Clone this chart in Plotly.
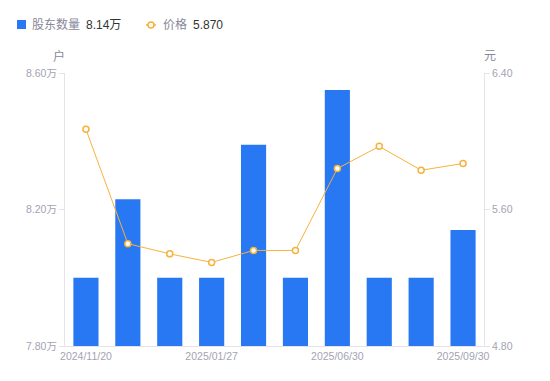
import plotly.graph_objects as go

dates = ["2024/11/20", "2024/12/10", "2024/12/31", "2025/01/27", "2025/02/28",
         "2025/03/31", "2025/06/30", "2025/07/31", "2025/08/29", "2025/09/30"]
holders = [8.00, 8.23, 8.00, 8.00, 8.39, 8.00, 8.55, 8.00, 8.00, 8.14]  # 万户
price = [6.07, 5.40, 5.34, 5.29, 5.36, 5.36, 5.84, 5.97, 5.83, 5.87]
shown_ticks = ["2024/11/20", "2025/01/27", "2025/06/30", "2025/09/30"]
left_ticks = [7.80, 8.20, 8.60]
right_ticks = [4.80, 5.60, 6.40]
legend_names = ["股东数量", "价格"]
legend_values = ["8.14万", "5.870"]

FONT = "Liberation Sans, Noto Sans CJK SC, sans-serif"
TICK = "#a3a3b3"
AXIS = "#e3e3e8"
BLUE = "#2878F3"
ORANGE = "#F7B23B"
LABEL = "#888899"

W, H = 542, 373
ML, MR, MT, MB = 57, 66, 65, 35
PW, PH = W - ML - MR, H - MT - MB


def px(x):
    return (x - ML) / PW


def py(y):
    return 1 + (MT - y) / PH


fig = go.Figure()
fig.add_trace(go.Bar(
    x=dates, y=holders, name=legend_names[0],
    marker=dict(color=BLUE, line=dict(width=0)), yaxis="y",
))
fig.add_trace(go.Scatter(
    x=dates, y=price, name=legend_names[1],
    mode="lines+markers", yaxis="y2",
    line=dict(color=ORANGE, width=1),
    marker=dict(size=6, color="white", line=dict(color=ORANGE, width=1.5)),
))

annotations = [
    dict(text="户", xref="paper", yref="paper", x=0, y=1, xshift=-6, yshift=17,
         showarrow=False, font=dict(size=12, color=LABEL), xanchor="center", yanchor="middle"),
    dict(text="元", xref="paper", yref="paper", x=1, y=1, xshift=6, yshift=17,
         showarrow=False, font=dict(size=12, color=LABEL), xanchor="center", yanchor="middle"),
]
for txt, xx, col in [(legend_names[0], 22, LABEL), (legend_values[0], 76, "#333333"),
                     (legend_names[1], 153, LABEL), (legend_values[1], 183, "#333333")]:
    annotations.append(dict(text=txt, xref="paper", yref="paper", x=px(xx), y=py(17),
                            xanchor="left", yanchor="middle", showarrow=False,
                            font=dict(size=12, color=col)))

shapes = [
    dict(type="rect", xref="paper", yref="paper", x0=px(9), x1=px(18), y0=py(21), y1=py(12),
         fillcolor=BLUE, line=dict(width=0)),
    dict(type="line", xref="paper", yref="paper", x0=px(138), x1=px(148), y0=py(17), y1=py(17),
         line=dict(color=ORANGE, width=1.5)),
    dict(type="circle", xref="paper", yref="paper", x0=px(140), x1=px(146), y0=py(20), y1=py(14),
         fillcolor="white", line=dict(color=ORANGE, width=1.5)),
]

fig.update_layout(
    width=W, height=H,
    margin=dict(l=ML, r=MR, t=MT, b=MB, autoexpand=False),
    paper_bgcolor="white", plot_bgcolor="white",
    font=dict(family=FONT, size=12, color=LABEL),
    bargap=0.4,
    showlegend=False,
    xaxis=dict(
        type="category", range=[-0.5, len(dates) - 0.5],
        tickmode="array", tickvals=shown_ticks, ticktext=shown_ticks,
        showgrid=False, showline=True, linecolor=AXIS, linewidth=1,
        ticks="", tickfont=dict(size=10.5, color=TICK), zeroline=False,
    ),
    yaxis=dict(
        range=[7.80, 8.60], tickmode="array", tickvals=left_ticks,
        ticktext=[f"{v:.2f}万" for v in left_ticks],
        showgrid=False, showline=True, linecolor=AXIS, linewidth=1,
        ticks="outside", ticklen=5, tickcolor=AXIS,
        tickfont=dict(size=10.5, color=TICK), zeroline=False,
    ),
    yaxis2=dict(
        range=[4.80, 6.40], overlaying="y", side="right", tickmode="array",
        tickvals=right_ticks, ticktext=[f"{v:.2f}" for v in right_ticks],
        showgrid=False, showline=True, linecolor=AXIS, linewidth=1,
        ticks="outside", ticklen=5, tickcolor=AXIS,
        tickfont=dict(size=10.5, color=TICK), zeroline=False,
    ),
    annotations=annotations,
    shapes=shapes,
)

fig.write_html("out.html")
